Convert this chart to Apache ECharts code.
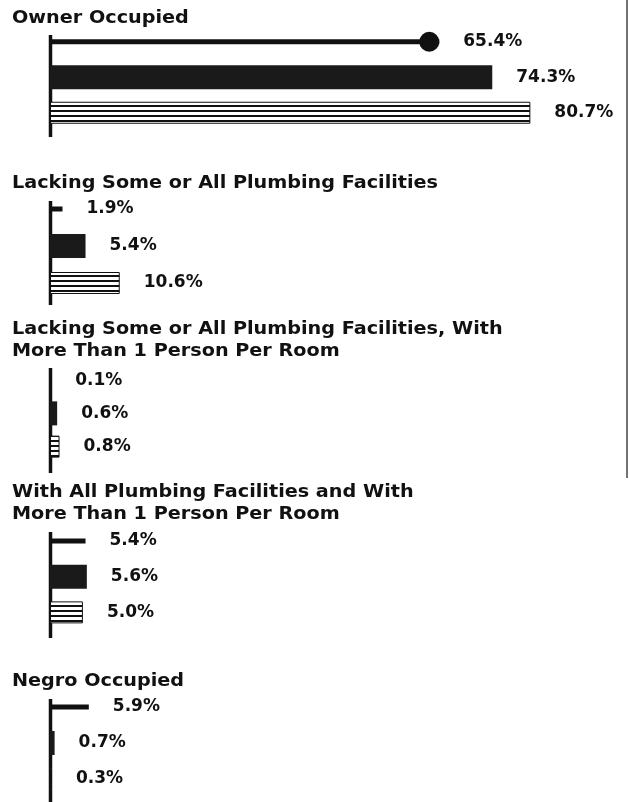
<!DOCTYPE html>
<html>
<head>
<meta charset="utf-8">
<script src="https://cdn.jsdelivr.net/npm/echarts@6/dist/echarts.min.js"></script>
<style>
  html, body { margin: 0; padding: 0; background: #fff; }
  #chart { width: 629px; height: 802px; }
</style>
</head>
<body>
<div id="chart"></div>
<script>
// data
const groupTitles = [
  'Owner Occupied',
  'Lacking Some or All Plumbing Facilities',
  'Lacking Some or All Plumbing Facilities, With\nMore Than 1 Person Per Room',
  'With All Plumbing Facilities and With\nMore Than 1 Person Per Room',
  'Negro Occupied'
];
const rowNames = ['row1', 'row2', 'row3'];
const lineValues = [65.4, 1.9, 0.1, 5.4, 5.9];
const solidValues = [74.3, 5.4, 0.6, 5.6, 0.7];
const stripedValues = [80.7, 10.6, 0.8, 5.0, 0.3];
const axisMax = [84, 76, 42, 76, 76];
const dotMarker = [true, false, false, false, false];

// layout (pixels)
const gridTops = [24, 190.5, 363.5, 523, 689];
const rowGap = [35.5, 37, 33.25, 35.75, 36];
const axisSpan = [[35, 137], [201, 305], [368, 473], [532, 638], [699, 802]];
const titleY = [19, 183.5, 340.75, 503.5, 681.5];

// horizontal stripe fill
function stripes() {
  const c = document.createElement('canvas');
  c.width = 6; c.height = 5;
  const ctx = c.getContext('2d');
  ctx.fillStyle = '#fff';
  ctx.fillRect(0, 0, 6, 5);
  ctx.fillStyle = '#111';
  ctx.fillRect(0, 0, 6, 2);
  return c;
}
const stripeImg = stripes();

const myChart = echarts.init(document.getElementById('chart'));

const grid = [], xAxis = [], yAxis = [], series = [], graphic = [];
const labelStyle = {
  show: true,
  position: 'right',
  distance: 24,
  fontFamily: 'DejaVu Sans',
  fontWeight: 'bold',
  fontSize: 17,
  color: '#111',
  formatter: p => p.value.toFixed(1) + '%'
};

groupTitles.forEach((title, g) => {
  grid.push({ left: 50, width: 500, top: gridTops[g], height: rowGap[g] * 3 });
  xAxis.push({ gridIndex: g, type: 'value', min: 0, max: axisMax[g], show: false });
  for (let k = 0; k < 3; k++) {
    yAxis.push({ gridIndex: g, type: 'category', data: rowNames, inverse: true, show: false });
  }
  const base = { type: 'bar', xAxisIndex: g, animation: false, label: labelStyle, silent: true };
  series.push(Object.assign({}, base, {
    yAxisIndex: g * 3,
    barWidth: 5,
    itemStyle: { color: '#111' },
    data: [lineValues[g], '-', '-']
  }));
  series.push(Object.assign({}, base, {
    yAxisIndex: g * 3 + 1,
    barWidth: 24,
    itemStyle: { color: '#1a1a1a' },
    data: ['-', solidValues[g], '-']
  }));
  series.push(Object.assign({}, base, {
    yAxisIndex: g * 3 + 2,
    barWidth: 22,
    itemStyle: {
      color: { image: stripeImg, repeat: 'repeat' },
      borderColor: '#111',
      borderWidth: 1
    },
    data: ['-', '-', stripedValues[g]]
  }));
  if (dotMarker[g]) {
    series.push({
      type: 'scatter',
      xAxisIndex: g,
      yAxisIndex: g * 3,
      animation: false,
      z: 5,
      symbolSize: 20,
      symbolOffset: [-10, 0],
      itemStyle: { color: '#111', opacity: 1 },
      data: [[lineValues[g], rowNames[0]]]
    });
  }
  // group title
  graphic.push({
    type: 'text',
    x: 12,
    y: titleY[g],
    scaleX: 1.13,
    style: {
      text: title,
      font: 'bold 17px "DejaVu Sans"',
      fill: '#111',
      verticalAlign: 'middle',
      lineHeight: 22.5
    }
  });
  // vertical axis
  graphic.push({
    type: 'line',
    shape: { x1: 50.5, y1: axisSpan[g][0], x2: 50.5, y2: axisSpan[g][1] },
    style: { stroke: '#111', lineWidth: 3.5 }
  });
});

// page border of the scan
graphic.push({
  type: 'line',
  shape: { x1: 627, y1: 0, x2: 627, y2: 478 },
  style: { stroke: '#444', lineWidth: 1.5 }
});

const option = {
  backgroundColor: '#fff',
  animation: false,
  grid: grid,
  xAxis: xAxis,
  yAxis: yAxis,
  series: series,
  graphic: graphic
};
myChart.setOption(option);
</script>
</body>
</html>
